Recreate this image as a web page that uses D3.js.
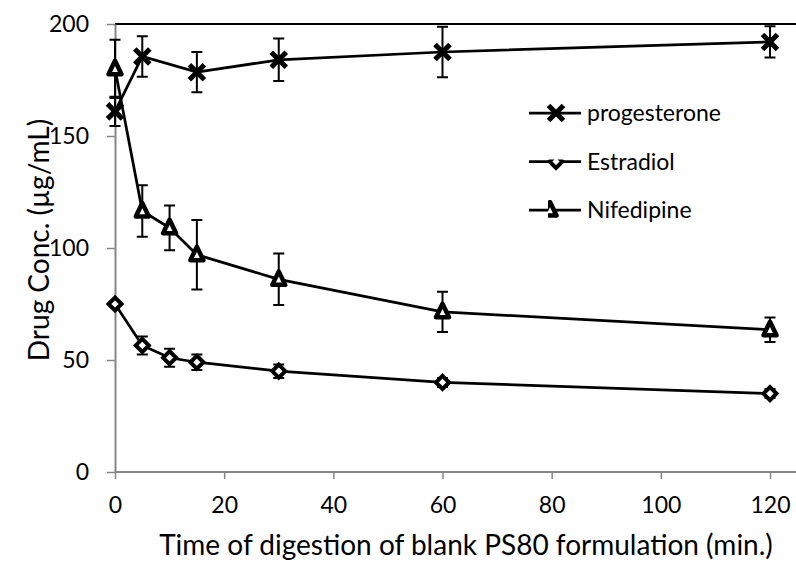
<!DOCTYPE html>
<html><head><meta charset="utf-8">
<script src="https://cdn.jsdelivr.net/npm/d3@7"></script>
<style>body{margin:0;background:#fff}svg{display:block}text{font-family:Lato,"Open Sans",sans-serif;fill:#000}</style>
</head><body><svg id="c" width="796" height="563"></svg>
<script>
const times = [0, 5, 10, 15, 30, 60, 120];
const seriesNames = ["progesterone", "Estradiol", "Nifedipine"];
const progTimes = [0, 5, 15, 30, 60, 120];
const progesterone = [161, 185.5, 178.5, 184, 187.5, 192];
const progesteroneErr = [6.5, 9, 9, 9.5, 11.3, 7];
const estradiol = [75, 56.5, 51, 49, 45, 40, 35];
const estradiolErr = [1, 4, 4, 3.5, 3, 2, 2];
const nifedipine = [180, 116.5, 109, 97, 86, 71.5, 63.5];
const nifedipineErr = [13, 11.5, 10, 15.5, 11.5, 9, 5.5];
const xTicks = [0, 20, 40, 60, 80, 100, 120];
const yTicks = [0, 50, 100, 150, 200];

const svg = d3.select("#c");
const L = 115, R = 796, T = 24, B = 472;
const x = d3.scaleLinear().domain([0, 120]).range([L, 770]);
const y = d3.scaleLinear().domain([0, 200]).range([B, T]);
const axisCol = "#868686";

svg.append("line").attr("x1", L).attr("x2", R).attr("y1", T).attr("y2", T).attr("stroke", "#000").attr("stroke-width", 2);

const xa = svg.append("g").attr("transform", `translate(0,${B})`)
  .call(d3.axisBottom(x).tickValues(xTicks).tickSize(7).tickPadding(18).tickSizeOuter(0));
xa.select(".domain").remove();
xa.append("line").attr("x1", L).attr("x2", R).attr("stroke", axisCol).attr("stroke-width", 2);
const ya = svg.append("g").attr("transform", `translate(${L},0)`)
  .call(d3.axisLeft(y).tickValues(yTicks).tickSize(8).tickPadding(18).tickSizeOuter(0));
ya.select(".domain").attr("stroke", axisCol).attr("stroke-width", 2);
svg.selectAll(".tick line").attr("stroke", axisCol).attr("stroke-width", 1.5);
svg.selectAll(".tick text").style("font-size", "23px").style("font-family", "Lato").attr("fill", "#000");

svg.append("text").attr("x", 466).attr("y", 555).attr("text-anchor", "middle")
  .style("font-size", "28px").text("Time of digestion of blank PS80 formulation  (min.)");
svg.append("text").attr("transform", `translate(38,240) rotate(-90)`).attr("text-anchor", "middle")
  .attr("dominant-baseline", "central").style("font-size", "28px").text("Drug Conc. (µg/mL)");

function build(ts, vals, errs) {
  return ts.map((t, i) => ({t, v: vals[i], e: errs[i]}));
}
const data = [
  {name: seriesNames[0], pts: build(progTimes, progesterone, progesteroneErr), marker: "x"},
  {name: seriesNames[1], pts: build(times, estradiol, estradiolErr), marker: "diamond"},
  {name: seriesNames[2], pts: build(times, nifedipine, nifedipineErr), marker: "triangle"}
];

const line = d3.line().x(d => x(d.t)).y(d => y(d.v));

function drawMarker(g, type, cx, cy) {
  if (type === "x") {
    const s = 7.5;
    g.append("path").attr("d", `M${cx-s},${cy-s}L${cx+s},${cy+s}M${cx-s},${cy+s}L${cx+s},${cy-s}`)
      .attr("stroke", "#000").attr("stroke-width", 5).attr("fill", "none");
  } else if (type === "diamond") {
    const s = 6.5;
    g.append("path").attr("d", `M${cx},${cy-s}L${cx+s},${cy}L${cx},${cy+s}L${cx-s},${cy}Z`)
      .attr("stroke", "#000").attr("stroke-width", 4).attr("fill", "#fff");
  } else {
    const s = 7;
    g.append("path").attr("d", `M${cx},${cy-s-1}L${cx+s-0.5},${cy+s-1.5}L${cx-s+0.5},${cy+s-1.5}Z`)
      .attr("stroke", "#000").attr("stroke-width", 4.5).attr("stroke-linejoin", "round").attr("fill", "#fff");
  }
}

const plot = svg.append("g");
data.forEach(s => {
  const g = plot.append("g");
  g.append("path").datum(s.pts).attr("d", line).attr("fill", "none").attr("stroke", "#000").attr("stroke-width", 2.75);
  s.pts.forEach(d => {
    if (d.e > 1.5) {
      const cx = x(d.t), y1 = y(d.v + d.e), y2 = y(d.v - d.e);
      g.append("path").attr("d", `M${cx},${y1}V${y2}M${cx-5.5},${y1}H${cx+5.5}M${cx-5.5},${y2}H${cx+5.5}`)
        .attr("stroke", "#000").attr("stroke-width", 2).attr("fill", "none");
    }
  });
  s.pts.forEach(d => drawMarker(g, s.marker, x(d.t), y(d.v)));
});

const lg = svg.append("g");
const defs = svg.append("defs");
data.forEach((s, i) => {
  const ly = 113 + i * 48.5;
  const g = lg.append("g");
  g.append("line").attr("x1", 529).attr("x2", 581).attr("y1", ly).attr("y2", ly).attr("stroke", "#000").attr("stroke-width", 2.75);
  const mg = g.append("g");
  let mx = 556;
  if (i > 0) {
    const id = "clip" + i;
    const cp = defs.append("clipPath").attr("id", id);
    if (i === 1) cp.append("rect").attr("x", 547).attr("y", ly - 2).attr("width", 18).attr("height", 14);
    else { cp.append("rect").attr("x", 548).attr("y", ly - 10).attr("width", 18).attr("height", 20); mx = 550; }
    mg.attr("clip-path", `url(#${id})`);
  }
  drawMarker(mg, s.marker, mx, ly);
  g.append("text").attr("x", 587).attr("y", ly + 8).style("font-size", "23px").text(s.name);
});
</script></body></html>
